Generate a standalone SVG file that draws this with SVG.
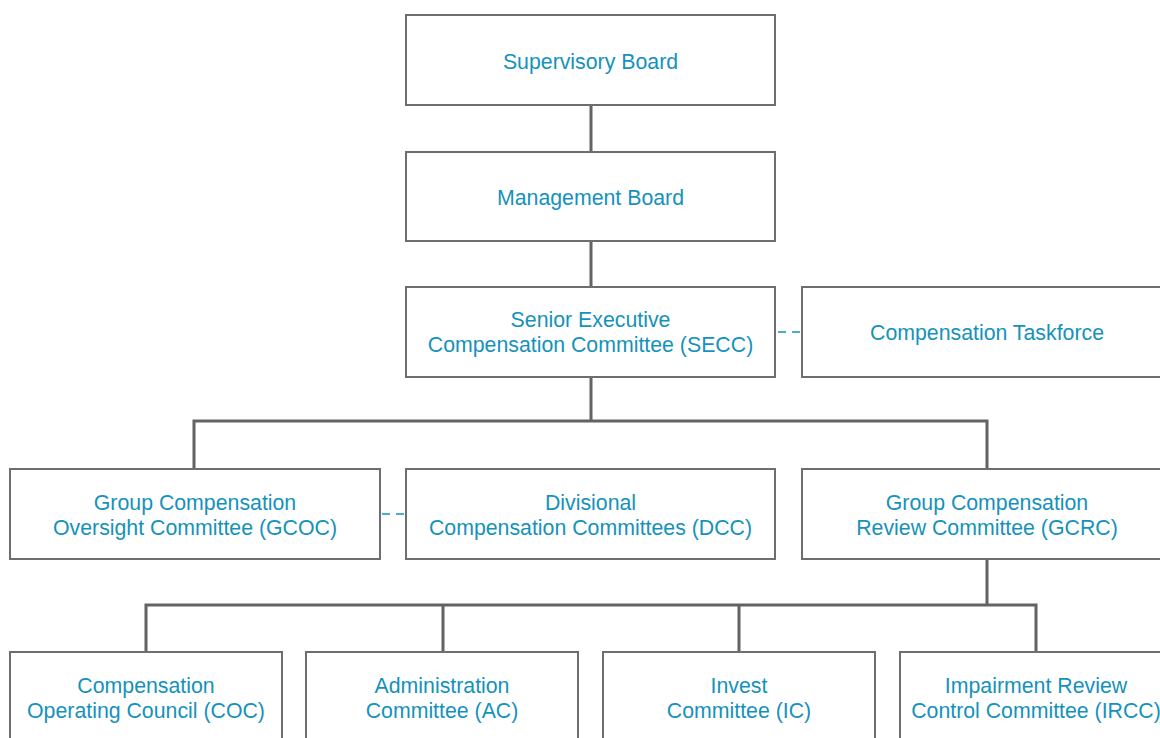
<svg xmlns="http://www.w3.org/2000/svg" width="1160" height="738" viewBox="0 0 1160 738">
<style>
.box{fill:#fff;stroke:#6e6e70;stroke-width:2}
.t{font-family:"Liberation Sans",Arial,sans-serif;font-size:21.3px;fill:#1592bb;text-anchor:middle}
.ln{fill:none;stroke:#636366;stroke-width:3}
.dash{fill:none;stroke:#1592bb;stroke-width:1.6;stroke-dasharray:8,6}
</style>
<rect width="1160" height="738" fill="#fff"/>
<g id="connectors">
<path class="ln" d="M591 105V152M591 241V287M591 377V421M194 469V421H987V469M987 559V605M146 652V605H1036V652M443 605V652M739 605V652"/>
<path class="dash" d="M778 332H802M382 514H406"/>
</g>
<g id="supervisory-board"><rect class="box" x="406" y="15" width="369" height="90"/><text class="t" x="590.5" y="69">Supervisory Board</text></g>
<g id="management-board"><rect class="box" x="406" y="152" width="369" height="89"/><text class="t" x="590.5" y="205">Management Board</text></g>
<g id="secc"><rect class="box" x="406" y="287" width="369" height="90"/><text class="t" x="590.5" y="327">Senior Executive</text><text class="t" x="590.5" y="352">Compensation Committee (SECC)</text></g>
<g id="taskforce"><rect class="box" x="802" y="287" width="370" height="90"/><text class="t" x="987" y="340">Compensation Taskforce</text></g>
<g id="gcoc"><rect class="box" x="10" y="469" width="370" height="90"/><text class="t" x="195" y="510">Group Compensation</text><text class="t" x="195" y="535">Oversight Committee (GCOC)</text></g>
<g id="dcc"><rect class="box" x="406" y="469" width="369" height="90"/><text class="t" x="590.5" y="510">Divisional</text><text class="t" x="590.5" y="535">Compensation Committees (DCC)</text></g>
<g id="gcrc"><rect class="box" x="802" y="469" width="370" height="90"/><text class="t" x="987" y="510">Group Compensation</text><text class="t" x="987" y="535">Review Committee (GCRC)</text></g>
<g id="coc"><rect class="box" x="10" y="652" width="272" height="92"/><text class="t" x="146" y="693">Compensation</text><text class="t" x="146" y="718">Operating Council (COC)</text></g>
<g id="ac"><rect class="box" x="306" y="652" width="272" height="92"/><text class="t" x="442" y="693">Administration</text><text class="t" x="442" y="718">Committee (AC)</text></g>
<g id="ic"><rect class="box" x="603" y="652" width="272" height="92"/><text class="t" x="739" y="693">Invest</text><text class="t" x="739" y="718">Committee (IC)</text></g>
<g id="ircc"><rect class="box" x="900" y="652" width="272" height="92"/><text class="t" x="1036" y="693">Impairment Review</text><text class="t" x="1036" y="718">Control Committee (IRCC)</text></g>
</svg>
